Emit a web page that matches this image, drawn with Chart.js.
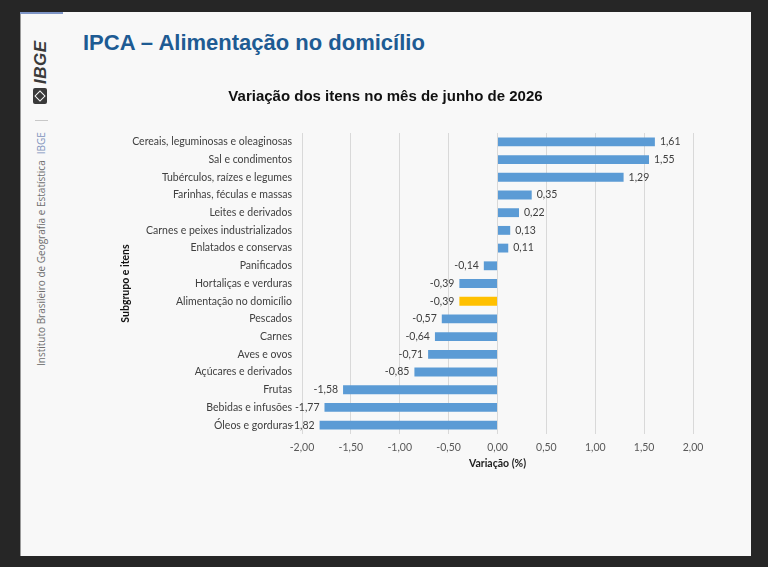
<!DOCTYPE html>
<html lang="pt-BR">
<head>
<meta charset="utf-8">
<title>IPCA – Alimentação no domicílio</title>
<script src="https://cdn.jsdelivr.net/npm/chart.js@4.4.1/dist/chart.umd.min.js"></script>
<style>
  html, body { margin: 0; padding: 0; }
  body { width: 768px; height: 567px; background: #262626; position: relative; overflow: hidden; font-family: "Liberation Sans", Arial, sans-serif; }
  #slide { position: absolute; left: 20px; top: 12px; width: 731px; height: 544px; background: #f8f8f8; border-left: 1px solid #9a9a9a; box-sizing: border-box; }
  #stripe { position: absolute; left: 20px; top: 12px; width: 43px; height: 2px; background: #7e95c6; }
  #titulo { position: absolute; left: 83px; top: 30px; font-size: 22px; font-weight: bold; color: #1e5b93; white-space: nowrap; }
  .rot { position: absolute; transform-origin: 0 0; transform: rotate(-90deg); white-space: nowrap; }
  #logo { left: 31px; top: 84px; font-size: 17px; font-weight: bold; font-style: italic; color: #3a3a3a; letter-spacing: 0.5px; }
  #logoIcon { position: absolute; left: 33px; top: 88px; width: 14px; height: 16px; background: #3a3a3a; border-radius: 2px; }
  #logoIcon:after { content: ""; position: absolute; left: 3px; top: 4px; width: 8px; height: 8px; border: 1px solid #f8f8f8; transform: rotate(45deg); box-sizing: border-box; }
  #sep { position: absolute; left: 35px; top: 120px; width: 13px; height: 1px; background: #c8c8c8; }
  #inst { left: 34px; top: 366px; font-size: 10px; color: #6e6e6e; font-family: "Open Sans", sans-serif; }
  #inst span { color: #8194bd; margin-left: 6px; }
  #wrap { position: absolute; left: 78px; top: 60px; width: 673px; height: 430px; }
</style>
</head>
<body>
<div id="slide"></div>
<div id="stripe"></div>
<div id="titulo">IPCA – Alimentação no domicílio</div>
<div id="logo" class="rot">IBGE</div>
<div id="logoIcon"></div>
<div id="sep"></div>
<div id="inst" class="rot">Instituto Brasileiro de Geografia e Estatística<span>IBGE</span></div>
<div id="wrap"><canvas id="grafico" width="673" height="430"></canvas></div>

<script>
// Dados
const categorias = [
    'Cereais, leguminosas e oleaginosas',
    'Sal e condimentos',
    'Tubérculos, raízes e legumes',
    'Farinhas, féculas e massas',
    'Leites e derivados',
    'Carnes e peixes industrializados',
    'Enlatados e conservas',
    'Panificados',
    'Hortaliças e verduras',
    'Alimentação no domicílio',
    'Pescados',
    'Carnes',
    'Aves e ovos',
    'Açúcares e derivados',
    'Frutas',
    'Bebidas e infusões',
    'Óleos e gorduras'
];
const variacoes = [1.61, 1.55, 1.29, 0.35, 0.22, 0.13, 0.11, -0.14, -0.39, -0.39, -0.57, -0.64, -0.71, -0.85, -1.58, -1.77, -1.82];
const destaque = 'Alimentação no domicílio';
const eixoX = { min: -2, max: 2, passo: 0.5 };

const corBarra = '#5b9bd5';
const corDestaque = '#ffc000';
const fonteRotulo = 'Lato, "Open Sans", sans-serif';

const formatar = (v) => v.toFixed(2).replace('.', ',');

// Rótulos de valor ao lado das barras
const rotulosValores = {
    id: 'rotulosValores',
    afterDatasetsDraw(chart) {
        const ctx = chart.ctx;
        const meta = chart.getDatasetMeta(0);
        ctx.save();
        ctx.font = '10.5px ' + fonteRotulo;
        ctx.fillStyle = '#404040';
        ctx.textBaseline = 'middle';
        meta.data.forEach((barra, i) => {
            const v = variacoes[i];
            if (v >= 0) {
                ctx.textAlign = 'left';
                ctx.fillText(formatar(v), barra.x + 5, barra.y);
            } else {
                ctx.textAlign = 'right';
                ctx.fillText(formatar(v), barra.x - 5, barra.y);
            }
        });
        ctx.restore();
    }
};

const ctx = document.getElementById('grafico').getContext('2d');
new Chart(ctx, {
    type: 'bar',
    data: {
        labels: categorias,
        datasets: [{
            data: variacoes,
            backgroundColor: categorias.map(c => (c === destaque ? corDestaque : corBarra)),
            categoryPercentage: 1,
            barPercentage: 0.5,
            borderWidth: 0
        }]
    },
    options: {
        indexAxis: 'y',
        responsive: false,
        animation: false,
        layout: { padding: { left: 0, right: 58, top: 0, bottom: 0 } },
        plugins: {
            legend: { display: false },
            tooltip: { enabled: false },
            title: {
                display: true,
                text: 'Variação dos itens no mês de junho de 2026',
                color: '#111',
                font: { family: '"Liberation Sans", Arial, sans-serif', size: 15, weight: 'bold' },
                padding: { top: 28, bottom: 27 }
            }
        },
        scales: {
            x: {
                min: eixoX.min,
                max: eixoX.max,
                ticks: {
                    stepSize: eixoX.passo,
                    color: '#595959',
                    font: { family: fonteRotulo, size: 10.5 },
                    padding: 7,
                    callback: (v) => formatar(v)
                },
                grid: { color: '#d9d9d9', drawTicks: false },
                border: { display: false },
                title: {
                    display: true,
                    text: 'Variação (%)',
                    color: '#222',
                    font: { family: fonteRotulo, size: 10.5, weight: 'bold' },
                    padding: { top: 0, bottom: 20 }
                },
                afterFit: (escala) => { escala.height = 56; }
            },
            y: {
                ticks: {
                    color: '#404040',
                    font: { family: fonteRotulo, size: 10.5 },
                    padding: 10
                },
                grid: { display: false, drawTicks: false },
                border: { display: false },
                title: {
                    display: true,
                    text: 'Subgrupo e itens',
                    color: '#111',
                    font: { family: fonteRotulo, size: 10.5, weight: 'bold' },
                    padding: { top: 41, bottom: 0 }
                },
                afterFit: (escala) => { escala.width = 224; }
            }
        }
    },
    plugins: [rotulosValores]
});
</script>
</body>
</html>
